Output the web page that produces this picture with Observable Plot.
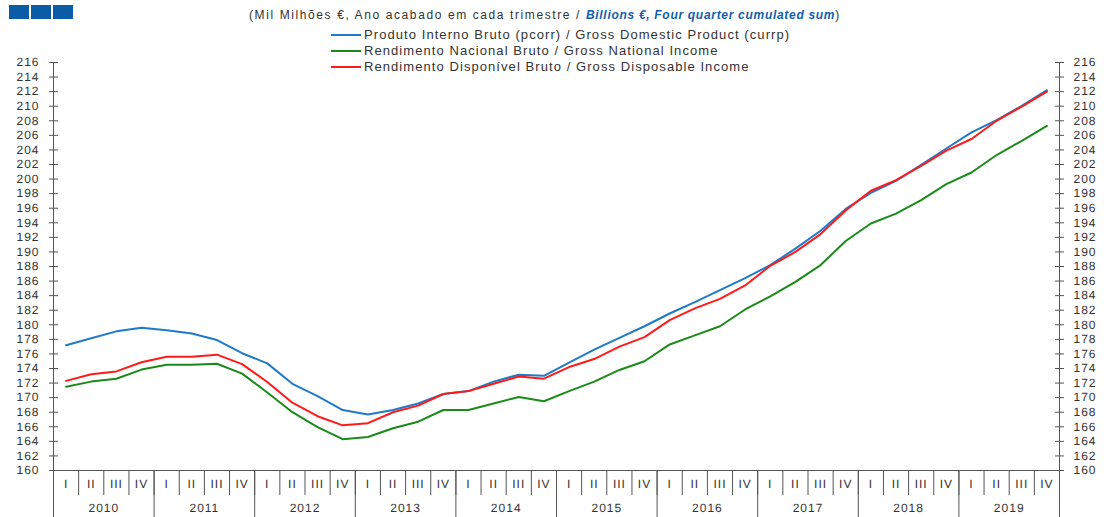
<!DOCTYPE html>
<html>
<head>
<meta charset="utf-8">
<script src="https://cdn.jsdelivr.net/npm/d3@7"></script>
<script src="https://cdn.jsdelivr.net/npm/@observablehq/plot@0.6"></script>
<style>
  html, body { margin: 0; padding: 0; background: #fff; }
  #wrap { position: relative; width: 1104px; height: 517px; font-family: "Liberation Sans", Arial, sans-serif; }
  #chart { position: absolute; left: 0; top: 0; }
  .logo { position: absolute; top: 5px; width: 20px; height: 14px; background: #0b5ca6; }
  #title { position: absolute; left: 249px; top: 8px; font-size: 12px; color: #333; letter-spacing: 1.6px; white-space: nowrap; }
  #title b { color: #1060b0; font-style: italic; letter-spacing: 0.7px; }
  .leg { position: absolute; left: 331px; font-size: 13px; color: #333; letter-spacing: 1.07px; white-space: nowrap; line-height: 14px; }
  .leg span.sw { display: inline-block; width: 30px; height: 2px; vertical-align: middle; margin-right: 3px; position: relative; top: -1px; }
  svg text { text-rendering: geometricPrecision; }
</style>
</head>
<body>
<div id="wrap">
  <div id="chart"></div>
  <div class="logo" style="left:9px"></div>
  <div class="logo" style="left:31px"></div>
  <div class="logo" style="left:53px"></div>
  <div id="title">(Mil Milhões €, Ano acabado em cada trimestre / <b>Billions €, Four quarter cumulated sum</b>)</div>
  <div id="legend"></div>
</div>
<script>
const quarters = ["I", "II", "III", "IV"];
const years = [2010, 2011, 2012, 2013, 2014, 2015, 2016, 2017, 2018, 2019];
const seriesNames = [
  "Produto Interno Bruto (pcorr) / Gross Domestic Product (currp)",
  "Rendimento Nacional Bruto / Gross National Income",
  "Rendimento Disponível Bruto / Gross Disposable Income"
];
const seriesColors = ["#1f7ac9", "#1a8a1a", "#ff1a1a"];
const gdp = [177.2, 178.15, 179.1, 179.6, 179.25, 178.8, 177.9, 176.1, 174.7, 171.9, 170.2, 168.3,
  167.7, 168.3, 169.2, 170.5, 170.9, 172.2, 173.15, 173.0, 174.8, 176.6, 178.2, 179.8,
  181.55, 183.1, 184.75, 186.4, 188.2, 190.45, 192.9, 195.9, 198.1, 199.75, 201.95, 204.2,
  206.4, 208.1, 210.05, 212.2];
const gni = [171.5, 172.2, 172.6, 173.85, 174.5, 174.5, 174.65, 173.3, 170.7, 168.0, 165.95, 164.3,
  164.6, 165.8, 166.7, 168.3, 168.3, 169.2, 170.1, 169.5, 170.9, 172.2, 173.8, 175.0,
  177.3, 178.55, 179.8, 182.1, 183.9, 185.9, 188.2, 191.5, 193.9, 195.25, 197.1, 199.3,
  200.9, 203.3, 205.25, 207.3];
const gdi = [172.3, 173.2, 173.6, 174.85, 175.6, 175.6, 175.9, 174.6, 172.15, 169.3, 167.45, 166.2,
  166.5, 168.0, 168.9, 170.5, 170.9, 171.9, 172.9, 172.6, 174.2, 175.3, 177.0, 178.3,
  180.65, 182.25, 183.55, 185.4, 188.1, 190.0, 192.45, 195.7, 198.4, 199.85, 201.8, 203.9,
  205.5, 208.0, 209.95, 212.0];
const yTicks = d3.range(160, 217, 2);

const allSeries = [gdp, gni, gdi];
const rows = [];
allSeries.forEach((vals, s) => vals.forEach((v, i) => rows.push({i: i + 0.5, v, s: seriesNames[s]})));

const nQ = years.length * 4;
const axisColor = "#555";

const plot = Plot.plot({
  width: 1104,
  height: 517,
  marginLeft: 53,
  marginRight: 45,
  marginTop: 62,
  marginBottom: 47,
  style: {fontFamily: "Liberation Sans, Arial, sans-serif", fontSize: "12px", color: "#333", background: "transparent", letterSpacing: "1px"},
  x: {type: "linear", domain: [0, nQ], axis: null},
  y: {domain: [160, 216], axis: null},
  color: {domain: seriesNames, range: seriesColors},
  marks: [
    Plot.ruleY([160], {stroke: axisColor}),
    Plot.ruleX([0, nQ], {stroke: axisColor}),
    Plot.axisY({anchor: "left", ticks: yTicks, tickSize: 9, dx: 5, tickFormat: () => "", stroke: axisColor, label: null}),
    Plot.axisY({anchor: "left", ticks: yTicks, tickSize: 0, tickPadding: 14, label: null}),
    Plot.axisY({anchor: "right", ticks: yTicks, tickSize: 9, dx: -5, tickFormat: () => "", stroke: axisColor, label: null}),
    Plot.axisY({anchor: "right", ticks: yTicks, tickSize: 0, tickPadding: 14, label: null}),
    Plot.axisX({ticks: d3.range(nQ + 1), tickSize: 25, tickFormat: () => "", stroke: axisColor, label: null}),
    Plot.axisX({ticks: d3.range(0, nQ + 1, 4), tickSize: 47, tickFormat: () => "", stroke: axisColor, label: null}),
    Plot.axisX({ticks: d3.range(nQ).map(i => i + 0.5), tickSize: 0, tickPadding: 9, label: null,
      tickFormat: d => quarters[Math.floor(d) % 4]}),
    Plot.axisX({ticks: years.map((y, k) => 4 * k + 2), tickSize: 0, tickPadding: 33, label: null,
      tickFormat: d => String(years[(d - 2) / 4])}),
    Plot.line(rows, {x: "i", y: "v", z: "s", stroke: "s", strokeWidth: 2})
  ]
});
document.getElementById("chart").appendChild(plot);

const legend = document.getElementById("legend");
seriesNames.forEach((name, k) => {
  const d = document.createElement("div");
  d.className = "leg";
  d.style.top = (28 + 16 * k) + "px";
  d.innerHTML = `<span class="sw" style="background:${seriesColors[k]}"></span>${name}`;
  legend.appendChild(d);
});
</script>
</body>
</html>
